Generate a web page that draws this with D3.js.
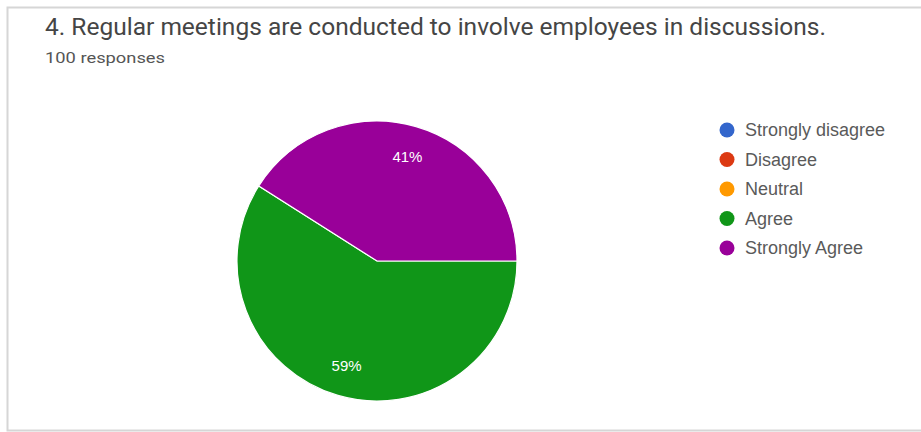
<!DOCTYPE html>
<html>
<head>
<meta charset="utf-8">
<script src="https://cdn.jsdelivr.net/npm/d3@7"></script>
<style>
  body { margin: 0; background: #fff; }
  svg { display: block; font-family: Roboto, Arial, sans-serif; }
</style>
</head>
<body>
<svg id="chart" width="921" height="432"></svg>
<script>
// answer categories and counts (100 responses)
const categories = ["Strongly disagree", "Disagree", "Neutral", "Agree", "Strongly Agree"];
const counts = [0, 0, 0, 59, 41];
const colors = ["#3366cc", "#dc3912", "#ff9900", "#109618", "#990099"];

const svg = d3.select("#chart");

// card frame
svg.append("rect")
    .attr("x", 7.5).attr("y", 7.5)
    .attr("width", 930).attr("height", 423)
    .attr("fill", "none")
    .attr("stroke", "#d6d6d6")
    .attr("stroke-width", 2);

svg.append("text")
    .attr("x", 45).attr("y", 35)
    .attr("font-size", 23)
    .attr("fill", "#454545")
    .attr("textLength", 781)
    .attr("lengthAdjust", "spacingAndGlyphs")
    .text("4. Regular meetings are conducted to involve employees in discussions.");

svg.append("text")
    .attr("x", 45).attr("y", 63)
    .attr("font-size", 15)
    .attr("fill", "#555")
    .attr("textLength", 120)
    .attr("lengthAdjust", "spacingAndGlyphs")
    .text("100 responses");

const data = categories.map((c, i) => ({ name: c, value: counts[i], color: colors[i] }));
const total = d3.sum(counts);

// pie starts at 3 o'clock, clockwise
const pie = d3.pie()
    .sort(null)
    .value(d => d.value)
    .startAngle(Math.PI / 2)
    .endAngle(Math.PI / 2 + 2 * Math.PI);

const radius = 140;
const arc = d3.arc().innerRadius(0).outerRadius(radius);
const labelArc = d3.arc().innerRadius(109).outerRadius(109);

const g = svg.append("g").attr("transform", "translate(377,261)");
const arcs = pie(data).filter(d => d.data.value > 0);

g.selectAll("path")
    .data(arcs)
    .enter()
    .append("path")
    .attr("d", arc)
    .attr("fill", d => d.data.color)
    .attr("stroke", "#fff")
    .attr("stroke-width", 1.2);

g.selectAll(".lbl")
    .data(arcs)
    .enter()
    .append("text")
    .attr("class", "lbl")
    .attr("transform", d => `translate(${labelArc.centroid(d)})`)
    .attr("text-anchor", "middle")
    .attr("dy", "0.35em")
    .attr("font-family", "Arial, 'Liberation Sans', sans-serif")
    .attr("font-size", 15)
    .attr("fill", "#fff")
    .text(d => Math.round(d.data.value / total * 100) + "%");

// legend
const legend = svg.append("g").attr("transform", "translate(727,130)");
const item = legend.selectAll("g")
    .data(data)
    .enter()
    .append("g")
    .attr("transform", (d, i) => `translate(0,${i * 29.5})`);

item.append("circle")
    .attr("r", 7.5)
    .attr("fill", d => d.color);

item.append("text")
    .attr("x", 18)
    .attr("dy", "0.36em")
    .attr("font-family", "Arial, 'Liberation Sans', sans-serif")
    .attr("font-size", 18)
    .attr("fill", "#5a5a5a")
    .text(d => d.name);
</script>
</body>
</html>
